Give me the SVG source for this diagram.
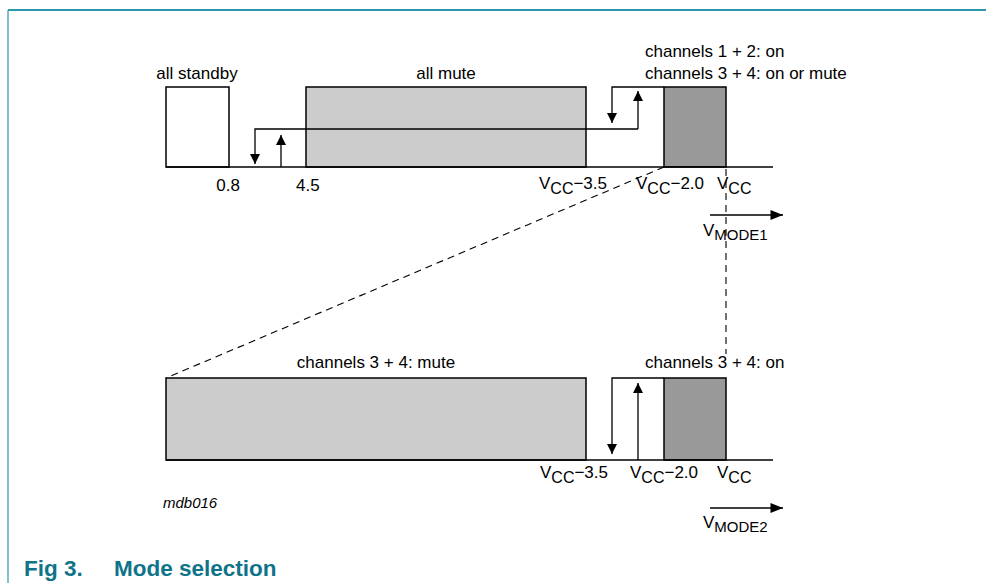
<svg xmlns="http://www.w3.org/2000/svg" width="986" height="583" viewBox="0 0 986 583">
<defs>
<style>
.t{font-family:"Liberation Sans",Arial,sans-serif;font-size:17px;fill:#000}
.s{font-size:16px}
.m{font-size:15px}
.box{stroke:#000;stroke-width:1.5}
.ln{stroke:#000;stroke-width:1.3;fill:none}
.dash{stroke:#000;stroke-width:1.1;fill:none;stroke-dasharray:7 5}
.cap{font-family:"Liberation Sans",Arial,sans-serif;font-size:22.5px;font-weight:bold;fill:#0f7389}
</style>
<marker id="ah" viewBox="0 0 10 10" refX="10" refY="5" markerWidth="10" markerHeight="10" markerUnits="userSpaceOnUse" orient="auto">
<path d="M0,0 L10,5 L0,10 Z" fill="#000"/>
</marker>
<marker id="ah2" viewBox="0 0 10 8" refX="10" refY="4" markerWidth="15" markerHeight="10" markerUnits="userSpaceOnUse" orient="auto">
<path d="M0,0 L10,4 L0,8 Z" fill="#000"/>
</marker>
</defs>
<rect width="986" height="583" fill="#fff"/>
<g id="frame">
<line x1="8" y1="10" x2="986" y2="10" stroke="#2a97aa" stroke-width="2"/>
<line x1="8" y1="10" x2="8" y2="583" stroke="#2a97aa" stroke-width="1.2"/>
</g>

<g id="top-standby">
<rect class="box" x="166" y="87" width="63" height="80" fill="#fff"/>
<text class="t" x="197" y="79" text-anchor="middle">all standby</text>
</g>
<g id="top-mute">
<rect class="box" x="306" y="87" width="280" height="80" fill="#cccccc"/>
<text class="t" x="446" y="79" text-anchor="middle">all mute</text>
</g>
<g id="top-on">
<rect class="box" x="664" y="87" width="62" height="80" fill="#999999"/>
<text class="t" x="645" y="57">channels 1 + 2: on</text>
<text class="t" x="645" y="79">channels 3 + 4: on or mute</text>
</g>

<g id="bottom-mute">
<rect class="box" x="166" y="378" width="420" height="82" fill="#cccccc"/>
<text class="t" x="376" y="368" text-anchor="middle">channels 3 + 4: mute</text>
</g>
<g id="bottom-on">
<rect class="box" x="664" y="378" width="62" height="82" fill="#999999"/>
<text class="t" x="645" y="368">channels 3 + 4: on</text>
</g>

<g id="connectors">
<line class="ln" x1="166" y1="167" x2="773" y2="167"/>
<polyline class="ln" points="638,129 255,129 255,164" marker-end="url(#ah)"/>
<line class="ln" x1="281" y1="167" x2="281" y2="135" marker-end="url(#ah)"/>
<polyline class="ln" points="664,87 612,87 612,123" marker-end="url(#ah)"/>
<line class="ln" x1="638" y1="129" x2="638" y2="91" marker-end="url(#ah)"/>
<line class="ln" x1="166" y1="460" x2="773" y2="460"/>
<polyline class="ln" points="664,378 612,378 612,454" marker-end="url(#ah)"/>
<line class="ln" x1="638" y1="460" x2="638" y2="383" marker-end="url(#ah)"/>
<line class="dash" x1="664" y1="167" x2="166" y2="378"/>
<line class="dash" x1="726" y1="169" x2="726" y2="354"/>
<line class="ln" x1="710" y1="215" x2="783" y2="215" marker-end="url(#ah2)"/>
<line class="ln" x1="710" y1="508" x2="783" y2="508" marker-end="url(#ah2)"/>
</g>

<g id="top-labels">
<text class="t" x="240" y="191" text-anchor="end">0.8</text>
<text class="t" x="296" y="191">4.5</text>
<text class="t" x="607" y="189" text-anchor="end">V<tspan class="s" dy="5">CC</tspan><tspan dy="-5">−3.5</tspan></text>
<text class="t" x="636" y="189">V<tspan class="s" dy="5">CC</tspan><tspan dy="-5">−2.0</tspan></text>
<text class="t" x="717" y="189">V<tspan class="s" dy="5">CC</tspan></text>
<text class="t" x="703" y="236">V<tspan class="m" dy="4">MODE1</tspan></text>
</g>
<g id="bottom-labels">
<text class="t" x="608" y="478" text-anchor="end">V<tspan class="s" dy="5">CC</tspan><tspan dy="-5">−3.5</tspan></text>
<text class="t" x="630" y="478">V<tspan class="s" dy="5">CC</tspan><tspan dy="-5">−2.0</tspan></text>
<text class="t" x="717" y="478">V<tspan class="s" dy="5">CC</tspan></text>
<text class="t" x="703" y="528">V<tspan class="m" dy="4">MODE2</tspan></text>
<text class="t" x="163" y="508" style="font-size:15px;font-style:italic">mdb016</text>
</g>
<g id="caption">
<text class="cap" x="24" y="576">Fig 3.</text>
<text class="cap" x="114" y="576">Mode selection</text>
</g>
</svg>
